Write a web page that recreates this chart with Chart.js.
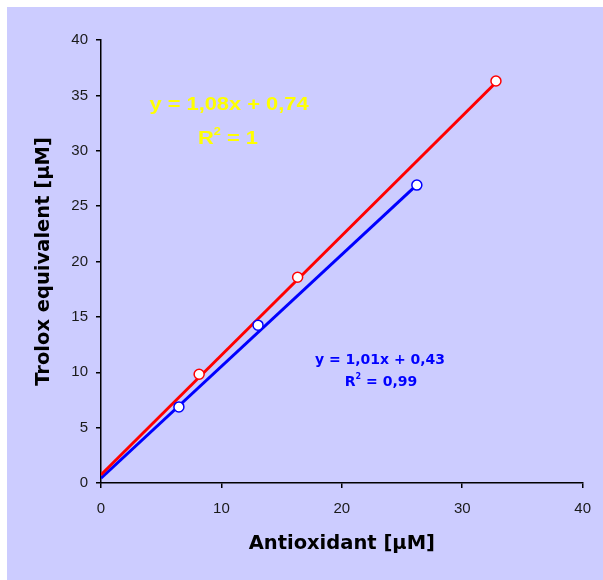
<!DOCTYPE html>
<html><head><meta charset="utf-8">
<script src="https://cdn.jsdelivr.net/npm/chart.js@4/dist/chart.umd.min.js"></script>
<style>
html,body{margin:0;padding:0;background:#fff;}
#wrap{position:absolute;left:7px;top:7px;width:596px;height:573px;background:#ccccff;}
</style></head><body>
<div id="wrap"><canvas id="c" width="596" height="573"></canvas></div>
<script>
// Data
const redX = [8.15, 16.33, 32.8];
const redY = [9.82, 18.58, 36.3];
const blueX = [6.47, 13.04, 26.23];
const blueY = [6.87, 14.25, 26.9];
// Trendline coefficients (from the chart's labels)
const redFit = {slope: 1.08, intercept: 0.74, label: 'y = 1,08x + 0,74', r2: '1'};
const blueFit = {slope: 1.01, intercept: 0.43, label: 'y = 1,01x + 0,43', r2: '0,99'};
const xTicks = [0, 10, 20, 30, 40];
const yTicks = [0, 5, 10, 15, 20, 25, 30, 35, 40];
const xTitle = 'Antioxidant [μM]';
const yTitle = 'Trolox equivalent [μM]';

function pts(xs, ys){ return xs.map((x,i)=>({x:x, y:ys[i]})); }
function trend(fit, xs){ const mx = Math.max(...xs); return [{x:0,y:fit.intercept},{x:mx,y:fit.slope*mx+fit.intercept}]; }

const textPlugin = {
  id:'eqText',
  afterDatasetsDraw(chart){
    const ctx = chart.ctx, a = chart.chartArea;
    function eq(text, cx, cy, font, color, sx){
      ctx.save(); ctx.font = font; ctx.fillStyle = color; ctx.textBaseline='middle'; ctx.textAlign='center';
      ctx.translate(cx, cy); ctx.scale(sx,1); ctx.fillText(text,0,0); ctx.restore();
    }
    function r2(val, cx, cy, size, family, color, sx){
      ctx.save(); ctx.fillStyle=color; ctx.textBaseline='middle'; ctx.textAlign='left';
      const f1 = 'bold '+size+'px '+family, f2 = 'bold '+Math.round(size*0.6)+'px '+family;
      ctx.font=f1; const wR = ctx.measureText('R').width; const wRest = ctx.measureText(' = '+val).width;
      ctx.font=f2; const w2 = ctx.measureText('2').width;
      const total = (wR+w2+wRest);
      ctx.translate(cx, cy); ctx.scale(sx,1);
      let x = -total/2;
      ctx.font=f1; ctx.fillText('R', x, 0); x+=wR;
      ctx.font=f2; ctx.fillText('2', x, -size*0.35); x+=w2;
      ctx.font=f1; ctx.fillText(' = '+val, x, 0);
      ctx.restore();
    }
    eq(redFit.label, a.left+128, a.top+65, 'bold 19px "Liberation Sans", Arial', '#ffff00', 1.15);
    r2(redFit.r2, a.left+127, a.top+99, 19, '"Liberation Sans", Arial', '#ffff00', 1.15);
    eq(blueFit.label, a.left+279, a.top+320, 'bold 14px "DejaVu Sans"', '#0000ff', 1);
    r2(blueFit.r2, a.left+280, a.top+342, 14, '"DejaVu Sans"', '#0000ff', 1);
  }
};

new Chart(document.getElementById('c'), {
  type:'scatter',
  data:{datasets:[
    {data:trend(blueFit, blueX), showLine:true, borderColor:'#0000ff', borderWidth:3, pointRadius:0, order:4},
    {data:trend(redFit, redX), showLine:true, borderColor:'#ff0000', borderWidth:3, pointRadius:0, order:3},
    {data:pts(blueX, blueY), backgroundColor:'#ffffff', borderColor:'#0000ff', borderWidth:1.5, pointRadius:5, order:2},
    {data:pts(redX, redY), backgroundColor:'#ffffff', borderColor:'#ff0000', borderWidth:1.5, pointRadius:5, order:1}
  ]},
  options:{
    responsive:false, animation:false,
    layout:{padding:{left:0,right:20,top:33,bottom:0}},
    plugins:{legend:{display:false}, tooltip:{enabled:false}},
    scales:{
      x:{type:'linear', min:0, max:40,
        afterBuildTicks(s){ s.ticks = xTicks.map(v=>({value:v})); },
        afterFit(s){ s.height = 97; },
        grid:{drawOnChartArea:false, drawTicks:true, tickLength:5, color:'#000', lineWidth:1.5},
        border:{display:true, color:'#000', width:1.5},
        ticks:{color:'#1a1a1a', font:{family:'"Liberation Sans", Arial', size:15}, padding:12, maxRotation:0},
        title:{display:true, text:xTitle, color:'#000', font:{family:'"DejaVu Sans"', weight:'bold', size:19.5}, padding:{top:0,bottom:24}}
      },
      y:{type:'linear', min:0, max:40,
        afterBuildTicks(s){ s.ticks = yTicks.map(v=>({value:v})); },
        afterFit(s){ s.width = 94; },
        grid:{drawOnChartArea:false, drawTicks:true, tickLength:5, color:'#000', lineWidth:1.5},
        border:{display:true, color:'#000', width:1.5},
        ticks:{color:'#1a1a1a', font:{family:'"Liberation Sans", Arial', size:15}, padding:8},
        title:{display:true, text:yTitle, color:'#000', font:{family:'"DejaVu Sans"', weight:'bold', size:19.5}, padding:{top:25,bottom:0}}
      }
    }
  },
  plugins:[textPlugin]
});
</script></body></html>
